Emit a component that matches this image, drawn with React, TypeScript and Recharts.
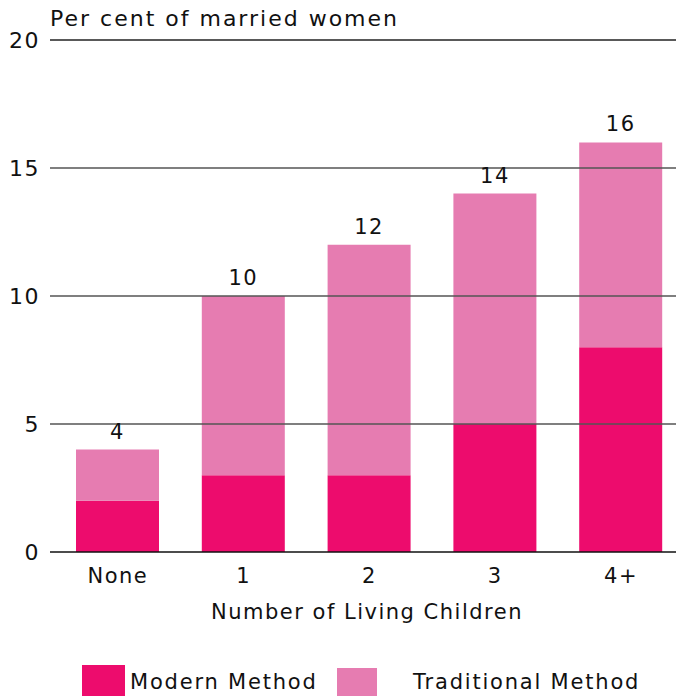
import { BarChart, Bar, XAxis, YAxis, ReferenceLine, LabelList, Legend, Label } from "recharts";

const categories = ["None", "1", "2", "3", "4+"];
const modern = [2, 3, 3, 5, 8];
const traditional = [2, 7, 9, 9, 8];
const totals = [4, 10, 12, 14, 16];
const yTicks = [0, 5, 10, 15, 20];
const gridLevels = [5, 10, 15, 20];

const data = categories.map((name, i) => ({
    name,
    modern: modern[i],
    traditional: traditional[i],
    total: totals[i],
}));

const FONT = "'DejaVu Sans', sans-serif";
const MODERN = "#ed0c6d";
const TRADITIONAL = "#e67cb1";

const txt = { fontFamily: FONT, fontSize: 21, fill: "#111", letterSpacing: 1.5 };

function LegendBox() {
    return (
        <div style={{ position: "relative", width: 676, height: 40, fontFamily: FONT, fontSize: 21, letterSpacing: 1.8, color: "#111" }}>
            <div style={{ position: "absolute", left: 82, top: 9, width: 43, height: 35, background: MODERN }} />
            <div style={{ position: "absolute", left: 130, top: 10, lineHeight: "32px" }}>Modern Method</div>
            <div style={{ position: "absolute", left: 337, top: 12, width: 40, height: 32, background: TRADITIONAL }} />
            <div style={{ position: "absolute", left: 413, top: 10, lineHeight: "32px" }}>Traditional Method</div>
        </div>
    );
}

export default function App() {
    return (
        <div style={{ position: "fixed", left: 0, top: 0, width: 676, height: 696, overflow: "hidden", background: "#fff" }}>
            <div style={{ position: "absolute", left: 50, top: 4, fontFamily: FONT, fontSize: 22, letterSpacing: 2, color: "#111", lineHeight: "30px" }}>
                Per cent of married women
            </div>
            <BarChart
                width={690}
                height={696}
                data={data}
                margin={{ top: 40, right: 6, left: 0, bottom: 24 }}
                barSize={83}
            >
                <XAxis
                    dataKey="name"
                    padding={{ left: 5, right: 0 }}
                    height={80}
                    tickSize={0}
                    tickMargin={16}
                    tick={txt}
                    axisLine={{ stroke: "#111", strokeWidth: 1.5 }}
                >
                    <Label value="Number of Living Children" position="insideBottom" offset={13} style={txt} />
                </XAxis>
                <YAxis
                    domain={[0, 20]}
                    ticks={yTicks}
                    width={50}
                    tickSize={0}
                    tickMargin={10}
                    axisLine={false}
                    tick={{ ...txt, fontSize: 22 }}
                    interval={0}
                />
                <Bar dataKey="modern" stackId="a" fill={MODERN} isAnimationActive={false} />
                <Bar dataKey="traditional" stackId="a" fill={TRADITIONAL} isAnimationActive={false}>
                    <LabelList dataKey="total" position="top" offset={11} style={txt} />
                </Bar>
                {gridLevels.map((v) => (
                    <ReferenceLine key={v} y={v} stroke={v === 20 ? "#222" : "#555"} strokeWidth={1.5} />
                ))}
                <Legend verticalAlign="bottom" wrapperStyle={{ left: 0, bottom: 0, width: 676 }} content={() => <LegendBox />} />
            </BarChart>
        </div>
    );
}
